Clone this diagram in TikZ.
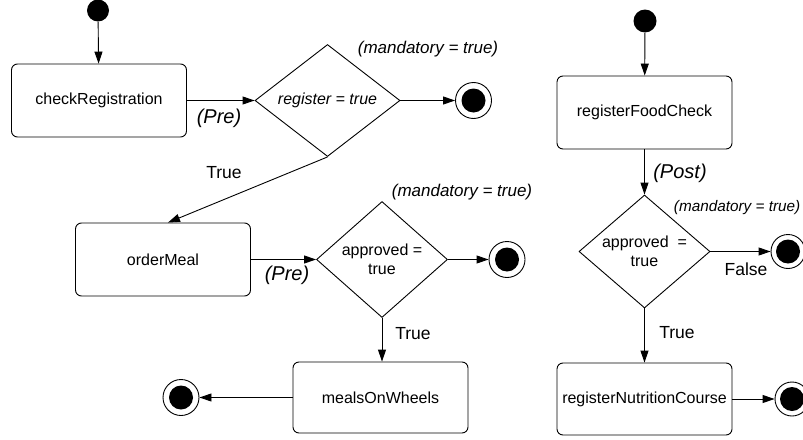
\documentclass[tikz,border=0pt]{standalone}
\usepackage{fontspec}
\setmainfont{Liberation Sans}
\usetikzlibrary{shapes.geometric,arrows.meta}
\newcommand{\fsz}[2]{\fontsize{#1}{#2}\selectfont}
\tikzset{
  every path/.style={line width=0.9pt},
  box/.style={draw, rounded corners=6pt, minimum width=175pt, minimum height=73pt,
              inner sep=2pt, font=\fsz{16}{19}},
  decision/.style={draw, diamond, inner sep=0pt, align=center, font=\fsz{16}{19}},
  startnode/.style={circle, fill=black, minimum size=23pt, inner sep=0pt},
  endnode/.style={circle, draw, minimum size=36pt, inner sep=0pt,
    path picture={\fill[black] (path picture bounding box.center) circle (12pt);}},
  flow/.style={-{Triangle[length=12pt,width=8pt]}},
  guard/.style={font=\fsz{17.5}{20}},
  cond/.style={font=\fsz{20}{24}\itshape},
  note/.style={font=\fsz{17}{20}\itshape, inner sep=0pt},
}
\begin{document}
\begin{tikzpicture}[x=1pt,y=-1pt]
\useasboundingbox (0,0) rectangle (803,439);

% left flow: registration and meal ordering
\node[startnode, minimum size=22pt] (i1) at (98,10.5) {};
\node[box] (cr) at (99,100.5) {checkRegistration};
\node[decision, minimum width=145pt, minimum height=112pt, shape aspect=1.29, font=\fsz{16}{19}\itshape]
  (d1) at (327.5,100.5) {register = true};
\node[endnode] (f1) at (473.5,100.5) {};
\node[box] (om) at (163,259.5) {orderMeal};
\node[decision, minimum width=131pt, minimum height=116pt, shape aspect=1.15]
  (d2) at (382,259.5) {approved =\\true};
\node[endnode] (f2) at (507,259.5) {};
\node[box, minimum height=71pt] (mw) at (380.5,397.5) {mealsOnWheels};
\node[endnode] (f3) at (181,397.5) {};

\node[note] (m1) at (428,49) {(mandatory = true)};
\node[note] (m2) at (462,192) {(mandatory = true)};
\node[cond] (p1) at (219,118) {(Pre)};
\node[cond] (p2) at (287,275) {(Pre)};
\node[guard] (t1) at (224,173) {True};
\node[guard] (t2) at (413,334) {True};

\draw[flow] (i1) -- (cr);
\draw[flow] (cr.east) -- (d1.west);
\draw[flow] (d1.east) -- (f1);
\draw[flow] (d1.south) -- ([xshift=5pt]om.north);
\draw[flow] (om.east) -- (d2.west);
\draw[flow] (d2.east) -- (f2);
\draw[flow] (d2.south) -- (d2.south |- mw.north);
\draw[flow] (mw.west) -- (f3);

% right flow: food check and nutrition course
\node[startnode] (i2) at (645,21) {};
\node[box] (rf) at (644.5,112.5) {registerFoodCheck};
\node[decision, minimum width=131pt, minimum height=113pt, shape aspect=1.16]
  (d3) at (644.5,251.5) {approved\ \ =\\true};
\node[endnode, minimum size=34pt] (f4) at (788,251.5) {};
\node[box, minimum height=72pt] (rn) at (644.5,399) {registerNutritionCourse};
\node[endnode, minimum size=34pt] (f5) at (792,399) {};

\node[note, anchor=west, font=\fsz{15.3}{18}\itshape] (m3) at (673.5,208) {(mandatory = true)};
\node[cond] (p3) at (680,173) {(Post)};
\node[guard] (fl) at (746,269) {False};
\node[guard] (t3) at (677,333) {True};

\draw[flow] (i2) -- (rf);
\draw[flow] (rf.south) -- (d3.north);
\draw[flow] (d3.east) -- (f4);
\draw[flow] (d3.south) -- (rn.north);
\draw[flow] (rn.east) -- (f5);
\end{tikzpicture}
\end{document}
